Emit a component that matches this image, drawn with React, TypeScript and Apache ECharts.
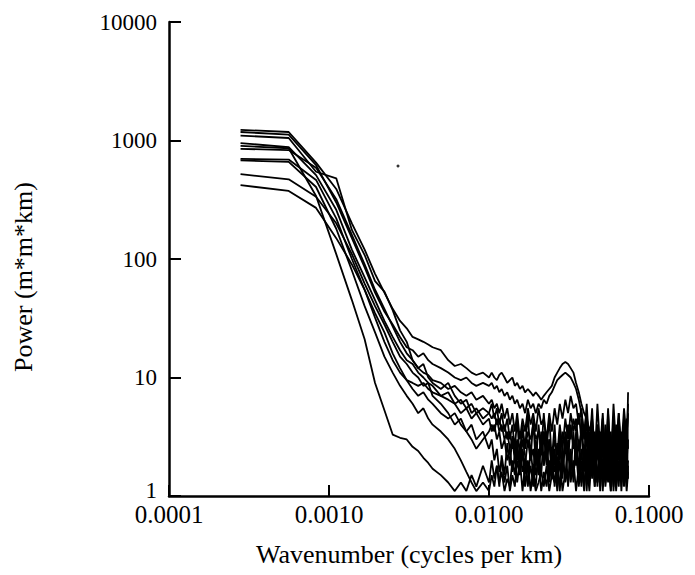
import React, { useEffect, useRef } from "react";
import * as echarts from "echarts";

// Wavenumbers (cycles per km)
const wavenumbers = [
  0.00028, 0.00056, 0.00083, 0.00111, 0.00139, 0.00167, 0.00194, 0.00222, 0.0025, 0.00278,
  0.00306, 0.00333, 0.00361, 0.00389, 0.00417, 0.00444, 0.005, 0.00556, 0.00611, 0.00667,
  0.00722, 0.00778, 0.00833, 0.00917,
  0.0100, 0.0104, 0.0108, 0.0112, 0.0116, 0.0120, 0.0125, 0.0130, 0.0135, 0.0140,
  0.0145, 0.0150, 0.0156, 0.0162, 0.0168, 0.0175, 0.0182, 0.0189, 0.0196, 0.0204,
  0.0212, 0.0220, 0.0229, 0.0238, 0.0247, 0.0257, 0.0267, 0.0277, 0.0288, 0.0300,
  0.0312, 0.0324, 0.0337, 0.0350, 0.0364, 0.0378, 0.0393, 0.0408, 0.0424, 0.0441,
  0.0458, 0.0476, 0.0495, 0.0514, 0.0534, 0.0555, 0.0577, 0.0600, 0.0623, 0.0647,
  0.0672, 0.0698, 0.0725, 0.0740,
];

// Power spectra (m*m*km), one per profile
const power1 = [
  1230, 1180, 650, 390, 200, 120, 75, 52, 38, 30, 26, 22, 21, 20, 19, 18, 17, 14, 12.5, 13, 12, 11, 10.5, 11,
  10, 11, 10, 9.5, 10.5, 11, 10, 9, 9.5, 10,
  8.5, 9, 8, 8.5, 7.5, 8, 7.5, 7, 7.5, 7,
  6.5, 7, 7.5, 8, 8.5, 10, 11, 12, 13, 13.5,
  13, 12, 11, 9, 7.5, 6, 5, 4.5, 3.5, 4.5,
  2.5, 4, 2, 4.5, 1.8, 3.5, 1.5, 4, 2, 5,
  2.5, 5.5, 3, 6,
];
const power2 = [
  1180, 1120, 620, 300, 150, 85, 52, 36, 28, 22, 18, 17, 15, 16, 14, 13, 12, 11, 10, 9.5, 10, 9, 8.5, 9,
  8.5, 9, 8, 8.5, 7.5, 8, 7, 7.5, 6.5, 7,
  6, 6.5, 5.5, 6, 5, 6.5, 5.5, 6, 5, 6,
  5.5, 6.5, 6, 7, 7.5, 8.5, 9.5, 10, 10.5, 11,
  10.5, 10, 9, 8, 6.5, 5, 3.5, 5, 2.5, 4,
  1.6, 3.5, 1.3, 3, 1.5, 4, 1.2, 3.5, 1.4, 4.5,
  1.6, 4, 2, 7.5,
];
const power3 = [
  1100, 1050, 545, 480, 176, 108, 65, 53, 37, 25, 20, 14, 12, 13, 10, 9, 8, 9, 7, 6, 6.5, 5, 5.5, 4.5,
  5, 6, 4.5, 5.5, 4, 5, 3.5, 4.5, 3, 4,
  2.5, 4.5, 2, 4, 2.5, 5, 2, 4.5, 1.8, 4,
  2.2, 5, 2.5, 4.5, 2, 4, 1.6, 3.5, 1.4, 3,
  1.2, 2.5, 1.3, 3.5, 1.5, 4.5, 2, 5, 1.6, 4,
  1.3, 3.5, 1.1, 4, 1.4, 5, 2, 4.5, 1.2, 3.5,
  1.1, 3, 1.3, 2,
];
const power4 = [
  950, 880, 510, 260, 120, 70, 45, 30, 22, 17, 14, 13, 11, 10, 9, 8.5, 7, 7.5, 6, 5, 5.5, 4.5, 5, 4,
  4.5, 3.5, 4, 3, 3.5, 2.5, 3, 2, 2.5, 1.6,
  2.2, 1.3, 2, 1.1, 1.8, 1.2, 2.5, 1.5, 3, 1.8,
  3.5, 2, 3, 1.5, 2.5, 1.2, 2, 1.1, 2.5, 1.3,
  3, 1.5, 3.5, 1.8, 3, 1.2, 2.5, 1.1, 3, 1.4,
  3.5, 1.2, 3, 1.1, 2.5, 1.3, 3.5, 1.1, 2.5, 1.2,
  3, 1.4, 2, 1.5,
];
const power5 = [
  900, 860, 340, 110, 45, 21, 9, 5.3, 3.3, 3.1, 3, 2.6, 2.4, 2.1, 1.9, 1.7, 1.5, 1.3, 1.1, 1.3, 1.1, 1.5, 1.2, 1.8,
  1.3, 2, 1.4, 1.8, 1.2, 2.2, 1.5, 2.8, 1.8, 3.2,
  2.2, 2.8, 1.6, 2.4, 1.2, 2, 1.1, 1.6, 1.2, 2.5,
  1.5, 3.5, 1.8, 3, 1.4, 2.2, 1.1, 2.8, 1.6, 3.5,
  2, 4, 2.5, 3, 1.5, 2.5, 1.2, 2, 1.1, 2.5,
  1.5, 3, 1.8, 2.5, 1.2, 2, 1.1, 2.8, 1.5, 3.2,
  1.8, 2.5, 1.2, 1.8,
];
const power6 = [
  850, 830, 590, 320, 160, 90, 55, 38, 27, 20, 16, 14, 12, 11, 10.5, 9.5, 9, 8, 8.5, 7.5, 7, 7.5, 6.5, 7,
  6, 6.5, 5.5, 6, 5, 6, 4.5, 5.5, 4, 5,
  3.5, 5, 3, 4.5, 3.5, 5.5, 4, 5, 3.5, 5.5,
  4, 4.5, 3, 5, 3.5, 5.5, 4, 6, 4.5, 6.5,
  5, 7, 5.5, 6, 4, 5.5, 3, 6, 2.5, 5.5,
  2, 6, 2.5, 5, 2, 5.5, 1.8, 6, 2.5, 5,
  1.5, 4.5, 2, 5,
];
const power7 = [
  700, 690, 465, 220, 100, 55, 35, 24, 16, 12, 9.5, 8, 7, 7.5, 6.5, 6, 5, 4.5, 5, 4, 3.5, 4, 3, 3.5,
  2.5, 3, 2, 2.5, 1.6, 2, 1.3, 1.8, 1.1, 1.5,
  1.2, 2, 1.5, 2.5, 1.8, 3, 2, 2.5, 1.5, 2,
  1.1, 1.6, 1.2, 2, 1.5, 2.5, 1.2, 2, 1.1, 1.6,
  1.3, 2.2, 1.5, 2.5, 1.2, 2, 1.1, 2.5, 1.4, 3,
  1.2, 2.5, 1.5, 3.5, 1.8, 3, 1.3, 2.5, 1.1, 2,
  1.3, 2.5, 1.1, 1.6,
];
const power8 = [
  680, 660, 405, 180, 80, 40, 24, 15, 11, 8.5, 7, 6, 5, 5.5, 4.5, 4, 3.5, 3, 2.5, 2, 1.6, 1.3, 1.1, 1.3,
  1.1, 1.5, 1.2, 1.8, 1.3, 1.6, 1.1, 1.4, 1.2, 2,
  1.5, 2.5, 1.8, 3, 2.2, 1.6, 1.2, 1.5, 1.1, 1.3,
  1.6, 1.2, 1.8, 1.1, 1.5, 1.3, 1.8, 1.2, 2, 1.5,
  2.5, 1.3, 2, 1.1, 1.8, 1.3, 2.5, 1.5, 3, 1.8,
  2.5, 1.3, 2, 1.2, 3, 1.5, 2.5, 1.2, 3.5, 1.5,
  2.5, 1.2, 2.8, 1.4,
];
const power9 = [
  520, 470, 335, 200, 110, 62, 40, 28, 20, 15, 13, 11, 10, 8.5, 9, 7, 6, 5, 4, 4.5, 3.5, 3, 2.5, 3,
  3.5, 4, 3.5, 4.5, 3.5, 4, 3, 3.5, 2.5, 3,
  2, 3, 2.5, 3.5, 2.5, 3.5, 3, 4, 3, 3.5,
  2.5, 3.5, 2, 3, 1.8, 3, 2.2, 4, 2.5, 4.5,
  3, 5, 3.5, 4.5, 2.5, 3.5, 1.6, 3.5, 1.4, 3,
  1.2, 4, 1.5, 4.5, 1.3, 3.5, 1.1, 3, 1.5, 4,
  1.2, 3.5, 1.5, 3,
];
const power10 = [
  420, 375, 270, 150, 90, 55, 32, 20, 14, 11, 9.5, 9, 8.5, 9, 8, 7.5, 7, 6.5, 6, 6.5, 5.5, 6, 5, 5.5,
  5, 4.5, 5, 4, 4.5, 3.5, 4, 3, 3.5, 2.5,
  3, 2, 2.5, 1.6, 2, 1.3, 1.8, 1.2, 2.2, 1.5,
  2.8, 1.8, 2.5, 1.3, 2, 1.6, 2.8, 2, 3.5, 2.5,
  4, 3, 4.5, 3.5, 5, 3, 4, 2, 3.5, 1.6,
  3, 1.3, 3.5, 1.5, 4, 1.8, 3, 1.5, 4, 2,
  3.5, 1.5, 4.5, 2.5,
];

const spectra = [power1, power2, power3, power4, power5, power6, power7, power8, power9, power10];

// Isolated point in the figure
const strayX = [0.0027];
const strayY = [610];

// Axis tick values
const xTicks = [0.0001, 0.001, 0.01, 0.1];
const yTicks = [1, 10, 100, 1000, 10000];

const FONT = "'Liberation Serif', 'Times New Roman', serif";

export default function App() {
  const ref = useRef<HTMLDivElement>(null);

  useEffect(() => {
    if (!ref.current) return;
    const chart = echarts.init(ref.current, undefined, { renderer: "svg" });

    const lineSeries = spectra.map((s, k) => ({
      type: "line",
      name: "profile " + (k + 1),
      data: wavenumbers.map((x, i) => [x, s[i]]),
      showSymbol: false,
      symbol: "none",
      clip: true,
      lineStyle: { color: "#000", width: 1.8 },
      emphasis: { disabled: true },
    }));

    const option: any = {
      animation: false,
      backgroundColor: "#fff",
      grid: {
        left: 169,
        right: 46,
        top: 22,
        bottom: 79,
        containLabel: false,
        outerBoundsMode: "none",
      },
      xAxis: {
        type: "log",
        logBase: 10,
        min: xTicks[0],
        max: xTicks[xTicks.length - 1],
        name: "Wavenumber (cycles per km)",
        nameLocation: "middle",
        nameGap: 45,
        nameTextStyle: { color: "#000", fontFamily: FONT, fontSize: 26 },
        axisLine: { lineStyle: { color: "#000", width: 2.5 } },
        axisTick: { inside: true, length: 11, lineStyle: { color: "#000", width: 2 } },
        axisLabel: {
          color: "#000",
          fontFamily: FONT,
          fontSize: 25,
          lineHeight: 20,
          margin: 8,
          showMinLabel: true,
          showMaxLabel: true,
          formatter: (v: number) => v.toFixed(4),
        },
        splitLine: { show: false },
      },
      yAxis: {
        type: "log",
        logBase: 10,
        min: yTicks[0],
        max: yTicks[yTicks.length - 1],
        axisLine: { lineStyle: { color: "#000", width: 2.5 } },
        axisTick: { inside: true, length: 12, lineStyle: { color: "#000", width: 2 } },
        axisLabel: {
          color: "#000",
          fontFamily: FONT,
          fontSize: 23,
          lineHeight: 16,
          margin: 12,
          showMinLabel: true,
          showMaxLabel: true,
          formatter: (v: number) => {
            const n = Math.round(v);
            return n === 1 ? "{low|1}" : String(n);
          },
          rich: {
            low: {
              color: "#000",
              fontFamily: FONT,
              fontSize: 23,
              lineHeight: 16,
              padding: [0, 0, 12, 0],
            },
          },
        },
        splitLine: { show: false },
      },
      graphic: [
        {
          type: "text",
          x: 23,
          y: 277,
          rotation: Math.PI / 2,
          style: {
            text: "Power (m*m*km)",
            fill: "#000",
            font: "26px " + FONT,
            textAlign: "center",
            textVerticalAlign: "middle",
          },
        },
      ],
      series: [
        ...lineSeries,
        {
          type: "scatter",
          name: "point",
          data: strayX.map((x, i) => [x, strayY[i]]),
          symbol: "circle",
          symbolSize: 3,
          itemStyle: { color: "#000" },
        },
      ],
    };

    chart.setOption(option);
    return () => chart.dispose();
  }, []);

  return (
    <div
      ref={ref}
      style={{ position: "fixed", left: 0, top: 0, width: 695, height: 575, background: "#fff" }}
    />
  );
}
